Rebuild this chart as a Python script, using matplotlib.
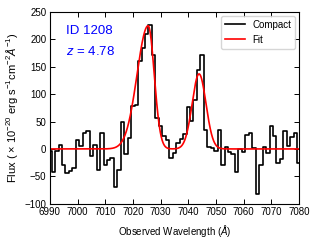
import numpy as np
import matplotlib
matplotlib.use("Agg")
import matplotlib.pyplot as plt

plt.rcParams['font.family'] = ['Liberation Sans', 'DejaVu Sans']
plt.rcParams['mathtext.fontset'] = 'custom'
plt.rcParams['mathtext.rm'] = 'Liberation Sans'
plt.rcParams['mathtext.it'] = 'Liberation Sans:italic'
plt.rcParams['mathtext.bf'] = 'Liberation Sans:bold'

# MUSE-like 1.25 A grid, bin centres start at 6990
wave_start = 6990.0
wave_step = 1.25
flux = [-4, -43, -4, 8, -29, -44, -40, -35, 17, 5,
        30, 33, -12, 8, -39, 30, -29, -20, -17, -69,
        -38, 49, -9, 20, 78, 81, 161, 184, 210, 227,
        171, 57, 42, 23, 17, -17, -7, 11, 19, 28,
        77, 51, 90, 145, 171, 35, 4, 2, -4, 34,
        -29, 4, -6, -9, -43, 0, -5, 26, 30, 2,
        -82, -30, 3, -8, 42, 23, -26, -18, 32, 6,
        22, 29, -26]

# fit parameters: asymmetric gaussian + gaussian
fit_center1 = 7025.5
fit_amp1 = 225.0
fit_sig1_blue = 4.0
fit_sig1_red = 2.2
fit_center2 = 7043.9
fit_amp2 = 137.0
fit_sig2 = 2.5

obj_id = "ID 1208"
redshift = 4.78


def fit_model(x):
    sig1 = np.where(x < fit_center1, fit_sig1_blue, fit_sig1_red)
    g1 = fit_amp1 * np.exp(-0.5 * ((x - fit_center1) / sig1) ** 2)
    g2 = fit_amp2 * np.exp(-0.5 * ((x - fit_center2) / fit_sig2) ** 2)
    return g1 + g2


wave = wave_start + wave_step * np.arange(len(flux))
xfine = np.linspace(6985, 7085, 2000)

fig = plt.figure(figsize=(3.16, 2.46), dpi=100)
ax = fig.add_axes([0.158, 0.172, 0.788, 0.779])

ax.step(wave, flux, where='mid', color='k', lw=1.2, label='Compact')
ax.plot(xfine, fit_model(xfine), color='red', lw=1.2, label='Fit')

ax.set_xlim(6990, 7080)
ax.set_ylim(-100, 250)
ax.set_xticks(np.arange(6990, 7081, 10))
ax.set_yticks(np.arange(-100, 251, 50))
ax.tick_params(direction='in', top=True, right=True, labelsize=7, length=3.5, width=0.7, pad=2.5)

ax.set_xlabel(r'Observed Wavelength ($\AA$)', fontsize=7, labelpad=4)
ax.set_ylabel(r'Flux ( $\times$ 10$^{-20}$ erg s$^{-1}$cm$^{-2}$$\AA^{-1}$)', fontsize=8, labelpad=3)

ax.text(0.065, 0.93, obj_id, transform=ax.transAxes, color='blue', fontsize=9.5, va='top')
ax.text(0.065, 0.83, r'$z$ = %.2f' % redshift, transform=ax.transAxes, color='blue', fontsize=9.5, va='top')

ax.legend(loc='upper right', fontsize=7, handlelength=2.0, borderaxespad=0.4)

fig.savefig('out.png', dpi=100)
